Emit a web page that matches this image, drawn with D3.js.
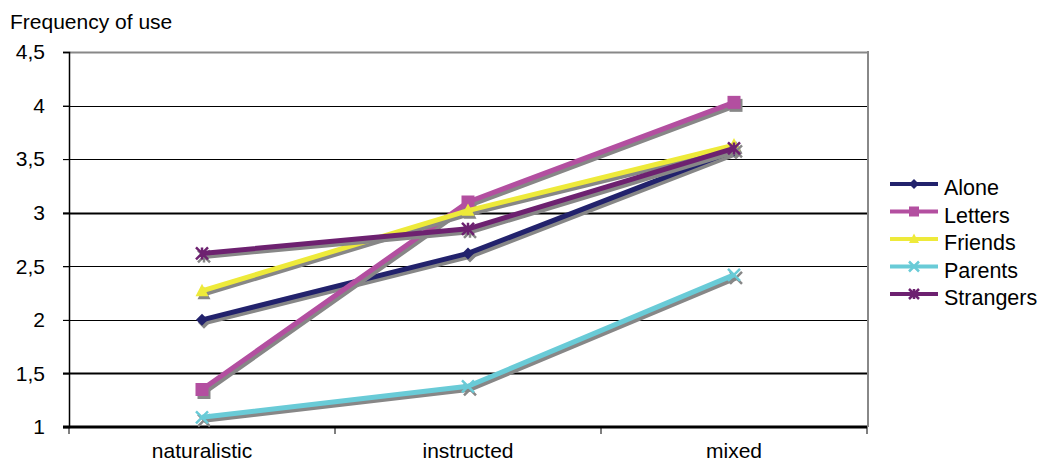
<!DOCTYPE html>
<html>
<head>
<meta charset="utf-8">
<script src="https://cdn.jsdelivr.net/npm/d3@7"></script>
<style>
  html, body { margin: 0; padding: 0; background: #fff; }
  svg { display: block; font-family: Arial, "Liberation Sans", sans-serif; }
</style>
</head>
<body>
<svg id="chart" width="1043" height="464"></svg>
<script>
// Frequency of use by task condition
const categories = ["naturalistic", "instructed", "mixed"];
const seriesNames = ["Alone", "Letters", "Friends", "Parents", "Strangers"];
const alone     = [2.00, 2.62, 3.58];
const letters   = [1.35, 3.10, 4.03];
const friends   = [2.27, 3.02, 3.63];
const parents   = [1.09, 1.38, 2.42];
const strangers = [2.62, 2.85, 3.60];
const yTicks = [1, 1.5, 2, 2.5, 3, 3.5, 4, 4.5];
const yTickLabels = ["1", "1,5", "2", "2,5", "3", "3,5", "4", "4,5"];

const colors = ["#22226c", "#b34fa0", "#eeea3a", "#69cbd7", "#6d2170"];
const markers = ["diamond", "square", "triangle", "x", "star"];
const markerSize = [6, 6.5, 6.5, 6, 6];
const seriesValues = [alone, letters, friends, parents, strangers];

const svg = d3.select("#chart");
const plot = { left: 69, right: 867, top: 52, bottom: 427 };

const x = d3.scaleBand().domain(categories).range([plot.left, plot.right]);
const y = d3.scaleLinear().domain([1, 4.5]).range([plot.bottom, plot.top]);

// Gridlines
const grid = svg.append("g");
yTicks.forEach(t => {
  if (t === 1) return;
  const top = t === 4.5;
  grid.append("line")
    .attr("x1", plot.left - 6).attr("x2", plot.right)
    .attr("y1", Math.round(y(t)) + 0.5).attr("y2", Math.round(y(t)) + 0.5)
    .attr("stroke", top ? "#888" : "#000")
    .attr("stroke-width", top ? 2 : (t === 3 || t === 1.5 ? 2 : 1));
});

// Right border
svg.append("line")
  .attr("x1", plot.right + 1).attr("x2", plot.right + 1)
  .attr("y1", plot.top - 1).attr("y2", plot.bottom)
  .attr("stroke", "#888").attr("stroke-width", 2);

// Y axis
const yAxis = d3.axisLeft(y).tickValues(yTicks)
  .tickFormat((d, i) => yTickLabels[i]).tickSize(6).tickPadding(18);
const yg = svg.append("g").attr("transform", `translate(${plot.left},0)`).call(yAxis);
yg.select(".domain").attr("stroke", "#000").attr("stroke-width", 1.5);
yg.selectAll(".tick line").attr("stroke", "#000");
yg.selectAll("text").attr("font-size", 21).attr("fill", "#000")
  .attr("font-family", "Arial, 'Liberation Sans', sans-serif");

// X axis with ticks between categories
const xg = svg.append("g").attr("transform", `translate(0,${plot.bottom})`);
xg.append("line").attr("x1", plot.left - 6).attr("x2", plot.right)
  .attr("y1", 0).attr("y2", 0).attr("stroke", "#000").attr("stroke-width", 3);
const boundaries = categories.map(c => x(c)).concat([x(categories[categories.length - 1]) + x.bandwidth()]);
boundaries.forEach(b => {
  xg.append("line").attr("x1", b).attr("x2", b).attr("y1", 0).attr("y2", 7)
    .attr("stroke", "#000").attr("stroke-width", 1);
});
xg.selectAll("text.cat").data(categories).join("text")
  .attr("class", "cat")
  .attr("x", d => x(d) + x.bandwidth() / 2)
  .attr("y", 31)
  .attr("text-anchor", "middle")
  .attr("font-size", 21)
  .text(d => d);

// Title
svg.append("text").attr("x", 10).attr("y", 29).attr("font-size", 21).text("Frequency of use");

// Marker drawing
function drawMarker(g, type, cx, cy, color, s) {
  if (type === "diamond") {
    g.append("path").attr("d", `M${cx},${cy - s}L${cx + s},${cy}L${cx},${cy + s}L${cx - s},${cy}Z`).attr("fill", color);
  } else if (type === "square") {
    g.append("rect").attr("x", cx - s).attr("y", cy - s).attr("width", 2 * s).attr("height", 2 * s).attr("fill", color);
  } else if (type === "triangle") {
    g.append("path").attr("d", `M${cx},${cy - s * 1.1}L${cx + s},${cy + s * 0.8}L${cx - s},${cy + s * 0.8}Z`).attr("fill", color);
  } else if (type === "x") {
    g.append("path").attr("d", `M${cx - s},${cy - s}L${cx + s},${cy + s}M${cx + s},${cy - s}L${cx - s},${cy + s}`)
      .attr("stroke", color).attr("stroke-width", 2.5).attr("fill", "none");
  } else if (type === "star") {
    g.append("path").attr("d", `M${cx - s},${cy - s}L${cx + s},${cy + s}M${cx + s},${cy - s}L${cx - s},${cy + s}M${cx},${cy - s}L${cx},${cy + s}`)
      .attr("stroke", color).attr("stroke-width", 2.5).attr("fill", "none");
  }
}

const line = d3.line()
  .x((d, i) => x(categories[i]) + x.bandwidth() / 2)
  .y(d => y(d));

// Series, each with a drop shadow
const series = svg.append("g");
seriesValues.forEach((vals, si) => {
  const g = series.append("g");
  const sh = g.append("g").attr("transform", "translate(2,3)");
  sh.append("path").attr("d", line(vals)).attr("fill", "none")
    .attr("stroke", "#878787").attr("stroke-width", 5).attr("stroke-linejoin", "round");
  vals.forEach((v, i) => drawMarker(sh, markers[si], x(categories[i]) + x.bandwidth() / 2, y(v), "#878787", markerSize[si]));
  g.append("path").attr("d", line(vals)).attr("fill", "none")
    .attr("stroke", colors[si]).attr("stroke-width", 5).attr("stroke-linejoin", "round");
  vals.forEach((v, i) => drawMarker(g, markers[si], x(categories[i]) + x.bandwidth() / 2, y(v), colors[si], markerSize[si]));
});

// Legend
const legend = svg.append("g").attr("transform", "translate(890,184)");
seriesNames.forEach((name, i) => {
  const row = legend.append("g").attr("transform", `translate(0,${i * 27.5})`);
  row.append("line").attr("x1", 0).attr("x2", 48).attr("y1", 0).attr("y2", 0)
    .attr("stroke", colors[i]).attr("stroke-width", 4);
  drawMarker(row, markers[i], 24, 0, colors[i], 5);
  row.append("text").attr("x", 54).attr("y", 11).attr("font-size", 21.5).text(name);
});
</script>
</body>
</html>
